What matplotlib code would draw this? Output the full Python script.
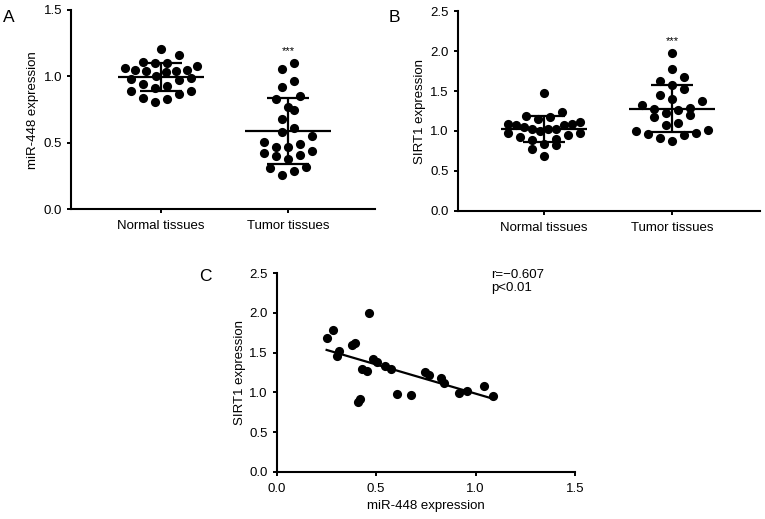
import numpy as np
import matplotlib
matplotlib.use("Agg")
import matplotlib.pyplot as plt
from matplotlib.ticker import FormatStrFormatter

plt.rcParams["font.family"] = ["Liberation Sans", "DejaVu Sans"]

GROUPS = ["Normal tissues", "Tumor tissues"]

# Panel A: miR-448 expression
mir448_normal = [1.21, 1.16, 1.08, 1.10, 1.11, 1.10, 1.05, 1.05, 1.03, 1.04,
                 1.04, 1.06, 0.99, 1.00, 0.97, 0.93, 0.91, 0.94, 0.98, 0.89,
                 0.89, 0.84, 0.81, 0.83, 0.87]
mir448_tumor = [1.10, 1.055, 0.965, 0.92, 0.83, 0.85, 0.75, 0.77, 0.68, 0.61,
                0.58, 0.55, 0.49, 0.51, 0.47, 0.42, 0.40, 0.376, 0.41, 0.44,
                0.47, 0.31, 0.26, 0.29, 0.32]

# Panel B: SIRT1 expression
sirt1_normal = [1.48, 1.24, 1.19, 1.15, 1.17, 1.09, 1.075, 1.05, 1.07, 1.09,
                1.11, 1.02, 1.00, 0.98, 0.97, 0.95, 1.03, 1.03, 0.93, 0.90,
                0.89, 0.825, 0.84, 0.78, 0.69]
sirt1_tumor = [1.98, 1.775, 1.675, 1.62, 1.58, 1.53, 1.455, 1.40, 1.37, 1.32,
               1.275, 1.26, 1.29, 1.20, 1.225, 1.17, 1.10, 1.07, 1.01, 0.97,
               0.95, 0.96, 1.00, 0.87, 0.91]

# Panel C: paired tumor samples
corr_mir448 = [0.464, 0.285, 0.251, 0.377, 0.394, 0.313, 0.302, 0.486, 0.506,
               0.545, 0.573, 0.431, 0.456, 0.746, 0.766, 0.825, 0.841, 0.603,
               0.674, 0.410, 0.419, 0.915, 0.955, 1.044, 1.086]
corr_sirt1 = [1.996, 1.786, 1.68, 1.597, 1.626, 1.525, 1.46, 1.416, 1.382,
              1.33, 1.29, 1.29, 1.265, 1.26, 1.218, 1.177, 1.12, 0.975,
              0.963, 0.88, 0.91, 0.996, 1.017, 1.08, 0.95]
corr_label = "r=\u22120.607\np<0.01"

FS = 9.5
W, H = 765, 519
DOT = 6.6  # marker diameter, points


def px_axes(fig, left, top, right, bottom):
    return fig.add_axes([left / W, 1 - bottom / H, (right - left) / W, (bottom - top) / H])


def style(ax):
    ax.spines[["top", "right"]].set_visible(False)
    for s in ("left", "bottom"):
        ax.spines[s].set_linewidth(1.5)
    ax.tick_params(width=1.4, length=3, labelsize=FS, colors="black")


def row_offsets(vals, row_h, step, max_half):
    """Prism-like scatter layout: group close values into rows,
    lowest value in the middle of each row, the rest fanned outwards."""
    vals = np.asarray(vals, dtype=float)
    order = np.argsort(vals)
    offs = np.zeros(len(vals))
    i = 0
    while i < len(order):
        j = i
        while j < len(order) and vals[order[j]] <= vals[order[i]] + row_h:
            j += 1
        row = order[i:j]
        n = len(row)
        st = step if n < 2 else min(step, 2 * max_half / (n - 1))
        slots = np.arange(n) - (n - 1) / 2
        slots = slots[np.argsort(np.abs(slots), kind="stable")]
        offs[row] = slots * st
        i = j
    return offs


def dot_plot(ax, normal, tumor, ylabel, ymax, xlim, star_y):
    ax.set_xlim(*xlim)
    ax.set_ylim(0, ymax)
    # marker diameter in data units, for the row layout
    dot_px = DOT * 100 / 72
    px_per_y = ax.bbox.height / ymax
    px_per_x = ax.bbox.width / (xlim[1] - xlim[0])
    row_h = 1.3 * dot_px / px_per_y
    step = 12 / px_per_x
    max_half = 36 / px_per_x
    for i, vals in enumerate([normal, tumor]):
        xs = i + row_offsets(vals, row_h, step, max_half)
        ax.scatter(xs, vals, s=DOT ** 2, color="black", linewidths=0, zorder=3)
        m = np.mean(vals)
        sd = np.std(vals, ddof=1)
        ax.hlines(m, i - 0.335, i + 0.335, color="black", lw=1.6, zorder=4)
        ax.hlines([m - sd, m + sd], i - 0.165, i + 0.165, color="black", lw=1.6, zorder=4)
        ax.vlines(i, m - sd, m + sd, color="black", lw=1.6, zorder=4)
    ax.text(1, star_y, "***", ha="center", va="baseline", fontsize=8)
    ax.set_yticks(np.arange(0, ymax + 0.01, 0.5))
    ax.yaxis.set_major_formatter(FormatStrFormatter("%.1f"))
    ax.set_xticks([0, 1])
    ax.set_xticklabels(GROUPS)
    ax.set_ylabel(ylabel, fontsize=FS, labelpad=3)
    ax.tick_params(axis="x", pad=5)
    style(ax)


fig = plt.figure(figsize=(W / 100, H / 100), dpi=100)

ax_a = px_axes(fig, 71, 10, 375, 209.3)
dot_plot(ax_a, mir448_normal, mir448_tumor, "miR-448 expression", 1.5,
         (-0.709, 1.685), 1.17)

ax_b = px_axes(fig, 457.7, 11, 760, 211)
dot_plot(ax_b, sirt1_normal, sirt1_tumor, "SIRT1 expression", 2.5,
         (-0.674, 1.687), 2.09)

ax_c = px_axes(fig, 276.7, 273.3, 575, 471.7)
ax_c.scatter(corr_mir448, corr_sirt1, s=DOT ** 2, color="black", zorder=3, linewidths=0)
slope, icpt = np.polyfit(corr_mir448, corr_sirt1, 1)
xs = np.array([min(corr_mir448), max(corr_mir448)])
ax_c.plot(xs, slope * xs + icpt, color="black", lw=1.6, zorder=4)
ax_c.set_xlim(0, 1.5)
ax_c.set_ylim(0, 2.5)
ax_c.set_xticks(np.arange(0, 1.51, 0.5))
ax_c.set_yticks(np.arange(0, 2.51, 0.5))
ax_c.xaxis.set_major_formatter(FormatStrFormatter("%.1f"))
ax_c.yaxis.set_major_formatter(FormatStrFormatter("%.1f"))
ax_c.set_xlabel("miR-448 expression", fontsize=FS, labelpad=4)
ax_c.set_ylabel("SIRT1 expression", fontsize=FS, labelpad=2)
ax_c.text(1.08, 2.55, corr_label, fontsize=FS, va="top", ha="left", linespacing=1.1)
ax_c.tick_params(axis="x", pad=5)
style(ax_c)

fig.text(3 / W, 1 - 22 / H, "A", fontsize=12.5, va="baseline")
fig.text(389 / W, 1 - 22 / H, "B", fontsize=12.5, va="baseline")
fig.text(199 / W, 1 - 281 / H, "C", fontsize=12.5, va="baseline")

fig.savefig("out.png", dpi=100)
